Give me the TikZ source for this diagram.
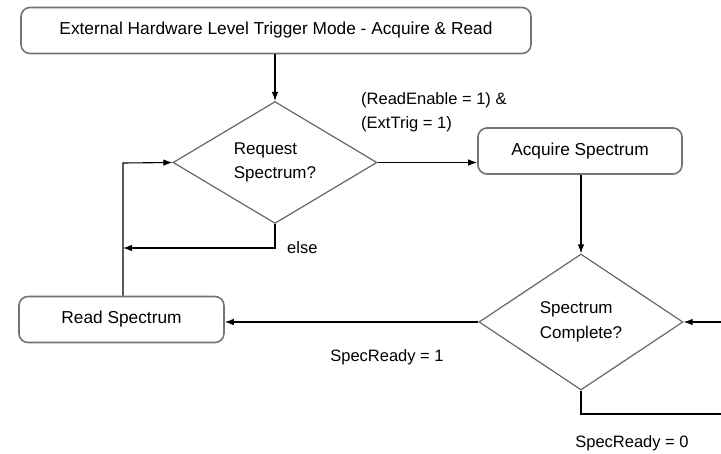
\documentclass[tikz,border=0pt]{standalone}
\usepackage{fontspec}
\setmainfont{Liberation Sans}
\usetikzlibrary{shapes, arrows.meta, positioning}

\tikzset{
    stepbox/.style={draw=black!55, line width=1.6pt, rounded corners=9pt, fill=white,
        minimum height=46pt, inner sep=0pt, font=\fontsize{17.3}{24}\selectfont},
    decision/.style={diamond, draw=black!60, line width=1.2pt, align=left, inner sep=0pt,
        minimum width=204pt, font=\fontsize{17}{24.5}\selectfont},
    flow/.style={draw=black, line width=1.1pt, -{Latex[length=9pt,width=6.5pt]}},
    plain/.style={draw=black, line width=1.1pt},
    lbl/.style={inner sep=0pt, align=left}
}

\begin{document}
\begin{tikzpicture}[x=1pt, y=-1pt, font=\fontsize{16.5}{24}\selectfont]
            \useasboundingbox (0,0) rectangle (721,453);
            \node[stepbox, minimum width=510pt] (mode) at (276,30.5) {External Hardware Level Trigger Mode - Acquire \& Read};
            \node[decision, minimum height=117pt] (request) at (275,162.5) {Request\\Spectrum?};
            \node[stepbox, minimum width=204pt] (acquire) at (580,151) {Acquire Spectrum};
            \node[decision, minimum height=136pt] (complete) at (581,322) {Spectrum\\Complete?};
            \node[stepbox, minimum width=205pt] (read) at (121.5,319.5) {Read Spectrum};
            % loose ends on the right edge
            \coordinate (inright) at (721,322);
            \coordinate (outright) at (721,414);
            \coordinate (elsebend) at (275,248);
            \coordinate (elsestop) at (123,248);
            \coordinate (readup) at (123,163);
            % connectors
            \draw[flow] (mode.south -| request.north) -- (request.north);
            \draw[flow] (request.east) -- (acquire.west |- request.east);
            \draw[flow] (acquire.south -| complete.north) -- (complete.north);
            \draw[flow] (complete.west) -- (read.east |- complete.west);
            \draw[flow] (inright) -- (complete.east);
            \draw[plain] (complete.south) |- (outright);
            \draw[flow] (request.south) -- (elsebend) -- (elsestop);
            \draw[flow] (read.north -| readup) -- (readup) -- (request.west);
            % labels
            \node[lbl, anchor=west] (cond) at (361,112) {(ReadEnable = 1) \&\\(ExtTrig = 1)};
            \node[lbl, anchor=west] (elselbl) at (287,248) {else};
            \node[lbl] (ready1) at (387,357) {SpecReady = 1};
            \node[lbl] (ready0) at (632,443) {SpecReady = 0};
        \end{tikzpicture}
\end{document}
